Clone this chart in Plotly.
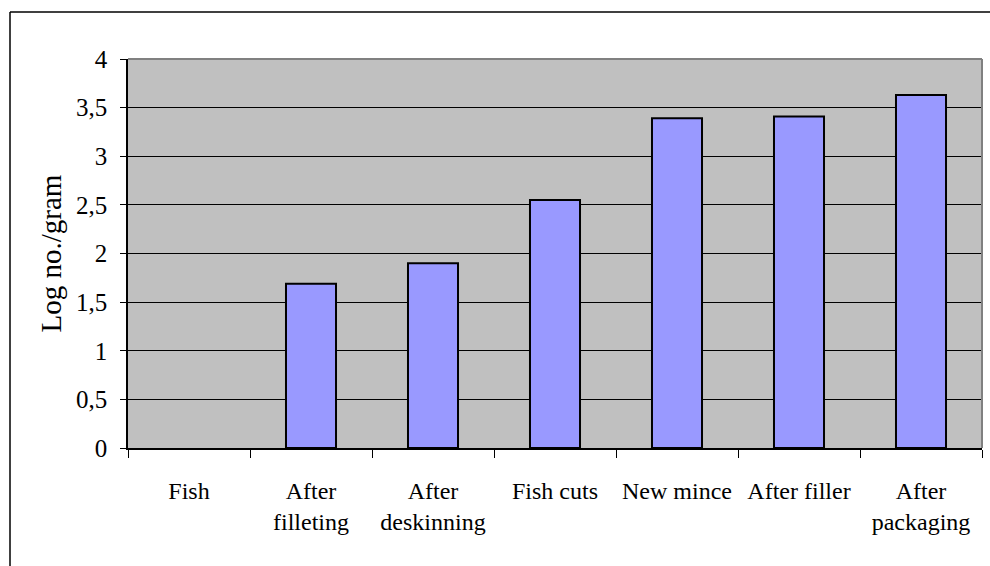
import plotly.graph_objects as go

# Processing stages and the measured counts (log no./gram)
stages = ["Fish", "After<br>filleting", "After<br>deskinning", "Fish cuts",
          "New mince", "After filler", "After<br>packaging"]
log_counts = [None, 1.69, 1.90, 2.55, 3.39, 3.41, 3.63]
y_ticks = [0, 0.5, 1, 1.5, 2, 2.5, 3, 3.5, 4]

FONT = "Liberation Serif, Times New Roman, serif"
W, H = 990, 566
L, R, T, B = 128, 8, 59, 118

fig = go.Figure(go.Bar(
    x=stages,
    y=log_counts,
    width=0.41,
    marker=dict(color="#9999FF", line=dict(color="#000000", width=2)),
))

# frame pieces placed in paper coordinates
def px_x(p):
    return (p - L) / (W - L - R)

def px_y(p):
    return 1 - (p - T) / (H - T - B)

shapes = [
    # chart box (top and left edges)
    dict(type="line", xref="paper", yref="paper", x0=px_x(10), x1=px_x(992),
         y0=px_y(12), y1=px_y(12), line=dict(color="#000000", width=1.5)),
    dict(type="line", xref="paper", yref="paper", x0=px_x(10), x1=px_x(10),
         y0=px_y(12), y1=px_y(570), line=dict(color="#000000", width=1.5)),
    # plot-area border, top and right
    dict(type="line", xref="paper", yref="paper", x0=0, x1=1, y0=1, y1=1,
         line=dict(color="#808080", width=2)),
    dict(type="line", xref="paper", yref="paper", x0=1, x1=1, y0=0, y1=1,
         line=dict(color="#808080", width=2)),
]

fig.update_layout(
    width=W, height=H,
    margin=dict(l=L, r=R, t=T, b=B),
    paper_bgcolor="#FFFFFF",
    plot_bgcolor="#C0C0C0",
    separators=", ",
    showlegend=False,
    font=dict(family=FONT, size=24, color="#000000"),
    shapes=shapes,
    xaxis=dict(
        type="category",
        showline=True, linecolor="#000000", linewidth=1.5,
        ticks="outside", tickson="boundaries", ticklen=8, tickcolor="#000000",
        tickfont=dict(family=FONT, size=24),
        ticklabelstandoff=20,
        showgrid=False,
    ),
    yaxis=dict(
        range=[0, 4],
        tickvals=y_ticks,
        showline=True, linecolor="#000000", linewidth=1.5,
        ticks="outside", ticklen=6, tickcolor="#000000",
        tickfont=dict(family=FONT, size=25),
        ticklabelstandoff=8,
        showgrid=True, gridcolor="#000000", gridwidth=1,
        zeroline=False,
        title=dict(text="Log no./gram", font=dict(family=FONT, size=29), standoff=6),
    ),
)

fig.write_html("out.html")
